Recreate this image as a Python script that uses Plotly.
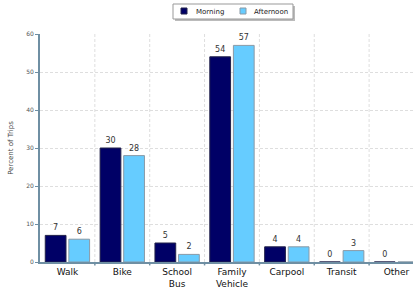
import plotly.graph_objects as go

categories = ["Walk", "Bike", "School<br>Bus", "Family<br>Vehicle", "Carpool", "Transit", "Other"]
morning = [7, 30, 5, 54, 4, 0, 0]
afternoon = [6, 28, 2, 57, 4, 3, 0]
y_ticks = [0, 10, 20, 30, 40, 50, 60]

series_names = ["Morning", "Afternoon"]
series_colors = ["#000066", "#66ccff"]
series_edges = ["#22224a", "#8a9aa6"]

W, H = 413, 287
ML, MR, MT, MB = 40, 0, 34, 25

x_idx = list(range(len(categories)))
text_m = [str(v) for v in morning]
text_a = [str(v) for v in afternoon]
text_a[-1] = ""

fig = go.Figure()
for vals, txt, name, col, edge in zip([morning, afternoon], [text_m, text_a], series_names, series_colors, series_edges):
    fig.add_trace(go.Bar(
        x=x_idx, y=vals, name=name, text=txt, textposition="outside",
        marker=dict(color=col, line=dict(color=edge, width=1)),
        textfont=dict(size=8, color="#333333", family="DejaVu Sans"),
        cliponaxis=False, showlegend=False,
    ))

fig.update_layout(
    width=W, height=H,
    margin=dict(l=ML, r=MR, t=MT, b=MB, autoexpand=False),
    paper_bgcolor="white", plot_bgcolor="white",
    barmode="group", bargap=0.14, bargroupgap=0.12,
    font=dict(family="DejaVu Sans", color="#333333"),
    showlegend=False,
    xaxis=dict(
        range=[-0.5, 6.3], automargin=False,
        tickmode="array", tickvals=x_idx, ticktext=categories,
        tickfont=dict(size=9, color="#111111", family="DejaVu Sans"),
        showline=True, linecolor="#6f8fa3", linewidth=2,
        ticks="", showgrid=False, zeroline=False,
    ),
    yaxis=dict(
        range=[0, 60], tickvals=y_ticks, automargin=False,
        tickfont=dict(size=6, color="#555555"),
        showline=True, linecolor="#6f8fa3", linewidth=2,
        ticks="outside", ticklen=3, tickcolor="#6f8fa3",
        showgrid=True, gridcolor="#dedede", griddash="3px,2px", gridwidth=1,
        zeroline=False,
        title=dict(text="Percent of Trips", font=dict(size=7, color="#444444"), standoff=12),
    ),
)

# vertical dashed grid lines at category boundaries
for b in [0.5, 1.5, 2.5, 3.5, 4.5, 5.5]:
    fig.add_shape(type="line", xref="x", yref="paper", x0=b, x1=b, y0=0, y1=1,
                  line=dict(color="#dedede", width=1, dash="3px,2px"), layer="below")
    fig.add_shape(type="line", xref="x", yref="paper", x0=b, x1=b, y0=0, y1=-0.015,
                  line=dict(color="#6f8fa3", width=1.5))

# manual legend (box with shadow, square swatches, labels)
pw, ph = W - ML - MR, H - MT - MB
def px(x):
    return (x - ML) / pw
def py(y):
    return (H - MB - y) / ph

fig.add_shape(type="rect", xref="paper", yref="paper", x0=px(175), x1=px(295), y0=py(6), y1=py(21),
              fillcolor="#bbbbbb", line=dict(width=0))
fig.add_shape(type="rect", xref="paper", yref="paper", x0=px(173), x1=px(293), y0=py(4), y1=py(19),
              fillcolor="white", line=dict(color="#999999", width=1))
sw_x = [181, 240]
tx_x = [194, 252]
for name, col, edge, sx, tx in zip(series_names, series_colors, series_edges, sw_x, tx_x):
    fig.add_shape(type="rect", xref="paper", yref="paper", x0=px(sx), x1=px(sx + 6), y0=py(8), y1=py(14),
                  fillcolor=col, line=dict(color=edge, width=1))
    fig.add_annotation(xref="paper", yref="paper", x=px(tx), y=py(11.5), text=name, showarrow=False,
                       xanchor="left", yanchor="middle", font=dict(size=7, color="#222222"))

fig.write_html("out.html", config={"displayModeBar": False},
               post_script="document.body.style.margin='0';document.body.style.overflow='hidden';")
